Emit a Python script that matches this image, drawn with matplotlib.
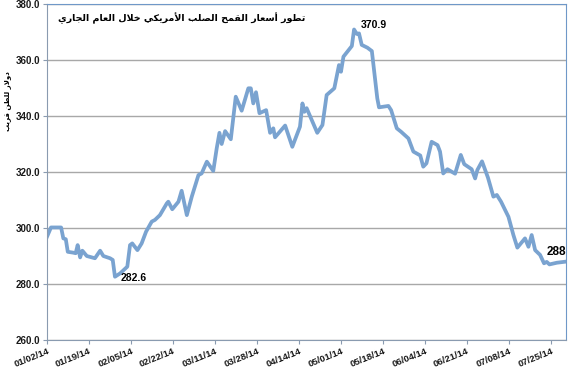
import matplotlib
matplotlib.use('Agg')
from matplotlib import pyplot as plt

# day offset from 01/02/14 and price (USD/ton)
days = [0.0, 1.6, 5.7, 6.6, 7.6, 8.4, 10.6, 11.6, 12.4, 13.4, 14.3, 16.1, 19.4, 21.5,
        22.8, 25.5, 26.6, 27.5, 29.6, 32.5, 33.6, 34.5, 36.6, 38.3, 40.1, 42.4, 43.7,
        45.7, 48.5, 49.1, 50.7, 53.2, 54.5, 56.6, 58.6, 61.3, 62.6, 64.7, 67.3, 68.7,
        69.8, 70.7, 72.1, 74.4, 76.4, 78.8, 81.5, 82.5, 83.5, 84.6, 86.0, 88.7, 90.3,
        91.6, 92.3, 96.4, 99.3, 102.4, 103.4, 104.2, 105.1, 109.4, 111.5, 113.2, 116.3,
        118.2, 119.0, 120.0, 123.4, 124.3, 125.4, 126.3, 127.4, 129.7, 131.5, 133.7,
        134.4, 138.2, 139.3, 141.6, 143.3, 146.3, 148.3, 151.1, 152.3, 153.6, 155.7,
        158.1, 159.1, 160.4, 162.1, 165.2, 167.5, 168.9, 171.9, 173.3, 174.2, 176.1,
        178.5, 180.7, 182.1, 183.8, 186.8, 188.8, 190.4, 193.5, 194.9, 196.2, 197.6,
        199.6, 201.2, 202.3, 203.4, 206.4, 210.1]
prices = [296.9, 300.2, 300.2, 296.3, 296.0, 291.5, 291.2, 291.0, 293.9, 289.5, 291.9,
          290.0, 289.2, 291.9, 290.0, 289.2, 288.6, 282.6, 283.8, 286.2, 293.9, 294.5,
          292.1, 294.5, 298.7, 302.3, 302.9, 304.6, 308.8, 309.4, 306.7, 309.4, 313.3,
          304.6, 311.2, 318.9, 319.5, 323.7, 320.4, 328.5, 334.0, 330.0, 334.6, 331.7,
          346.9, 341.9, 349.9, 349.9, 344.5, 348.5, 341.0, 342.1, 334.0, 335.6, 332.4,
          336.6, 329.0, 336.2, 344.5, 341.5, 342.8, 334.0, 336.8, 347.5, 349.9, 358.2,
          355.8, 361.2, 365.0, 370.9, 369.3, 369.5, 365.4, 364.4, 363.2, 346.3, 343.1,
          343.6, 342.1, 335.6, 334.4, 332.0, 327.3, 325.9, 321.9, 323.1, 330.8, 329.6,
          327.3, 319.5, 321.0, 319.4, 326.1, 322.8, 321.0, 317.7, 320.7, 323.8, 318.0,
          311.2, 311.8, 309.4, 304.0, 297.5, 293.0, 296.3, 293.3, 297.5, 292.1, 290.4,
          287.4, 287.9, 287.0, 287.6, 288.0]
tick_days = [0, 17, 34, 51, 68, 85, 102, 119, 136, 153, 170, 187, 204]
tick_labels = ['01/02/14', '01/19/14', '02/05/14', '02/22/14', '03/11/14', '03/28/14',
               '04/14/14', '05/01/14', '05/18/14', '06/04/14', '06/21/14', '07/08/14',
               '07/25/14']
title = 'تطور أسعار القمح الصلب الأمريكي خلال العام الجاري'
ylabel = 'دولار للطن قريب'

FORMS = {
    'ا': '\uFE8D\uFE8E', 'أ': '\uFE83\uFE84', 'د': '\uFEA9\uFEAA', 'ر': '\uFEAD\uFEAE',
    'و': '\uFEED\uFEEE', '\uFEFB': '\uFEFB\uFEFC', '\uFEF7': '\uFEF7\uFEF8',
    'ب': '\uFE8F\uFE90\uFE91\uFE92', 'ت': '\uFE95\uFE96\uFE97\uFE98',
    'ج': '\uFE9D\uFE9E\uFE9F\uFEA0', 'ح': '\uFEA1\uFEA2\uFEA3\uFEA4',
    'خ': '\uFEA5\uFEA6\uFEA7\uFEA8', 'س': '\uFEB1\uFEB2\uFEB3\uFEB4',
    'ص': '\uFEB9\uFEBA\uFEBB\uFEBC', 'ط': '\uFEC1\uFEC2\uFEC3\uFEC4',
    'ع': '\uFEC9\uFECA\uFECB\uFECC', 'ق': '\uFED5\uFED6\uFED7\uFED8',
    'ك': '\uFED9\uFEDA\uFEDB\uFEDC', 'ل': '\uFEDD\uFEDE\uFEDF\uFEE0',
    'م': '\uFEE1\uFEE2\uFEE3\uFEE4', 'ن': '\uFEE5\uFEE6\uFEE7\uFEE8',
    'ي': '\uFEF1\uFEF2\uFEF3\uFEF4',
}


def shape(text):
    # crude arabic shaping, matplotlib draws letters unjoined left to right
    s = text.replace('لأ', '\uFEF7').replace('لا', '\uFEFB')
    out = []
    for i, c in enumerate(s):
        if c not in FORMS:
            out.append(c)
            continue
        f = FORMS[c]
        prev = i > 0 and s[i - 1] in FORMS and len(FORMS[s[i - 1]]) == 4
        nxt = i + 1 < len(s) and s[i + 1] in FORMS and len(f) == 4
        if prev and nxt:
            out.append(f[3])
        elif prev:
            out.append(f[1])
        elif nxt:
            out.append(f[2])
        else:
            out.append(f[0])
    return ''.join(out)[::-1]


fig = plt.figure(figsize=(5.7, 3.75), dpi=100)
ax = fig.add_axes([0.0825, 0.0933, 0.9105, 0.896])
ax.plot(days, prices, color='#7aa3d0', lw=2.7, solid_joinstyle='round')
ax.set_xlim(0, 210.1)
ax.set_ylim(260, 380)
ax.set_yticks(range(260, 381, 20))
ax.set_yticklabels([f'{v:.1f}' for v in range(260, 381, 20)],
                   fontfamily='Liberation Sans', fontweight='bold', fontsize=7, color='#1a1a1a')
ax.set_xticks(tick_days)
ax.set_xticklabels(tick_labels, rotation=22, ha='right', rotation_mode='anchor',
                   fontfamily='Liberation Sans', fontweight='bold', fontsize=6.8, color='#1a1a1a')
ax.tick_params(axis='both', direction='out', length=3, color='#8a9bb0', pad=2)
ax.grid(axis='y', color='#a8a8a8', lw=1)
for side in ['top', 'right']:
    ax.spines[side].set_color('#6f98c8')
for side in ['left', 'bottom']:
    ax.spines[side].set_color('#8a9bb0')

ax.text(54.7, 375.0, shape(title), ha='center', va='center',
        fontfamily='DejaVu Sans', fontweight='bold', fontsize=6.8)
fig.text(0.014, 0.73, shape(ylabel), rotation=90, ha='center', va='center',
         fontfamily='DejaVu Sans', fontweight='bold', fontsize=5)

ax.annotate(f'{prices[17]:.1f}', (days[17], prices[17]), xytext=(4, -1),
            textcoords='offset points', ha='left', va='center',
            fontfamily='Liberation Sans', fontweight='bold', fontsize=7.5)
imax = prices.index(max(prices))
ax.annotate(f'{prices[imax]:.1f}', (days[imax], prices[imax]), xytext=(5, 3),
            textcoords='offset points', ha='left', va='center',
            fontfamily='Liberation Sans', fontweight='bold', fontsize=7.5)
ax.annotate(f'{prices[-1]:.0f}', (days[-1], prices[-1]), xytext=(0, 7),
            textcoords='offset points', ha='right', va='center',
            fontfamily='Liberation Sans', fontweight='bold', fontsize=8.5)

fig.savefig('out.png', dpi=100)
